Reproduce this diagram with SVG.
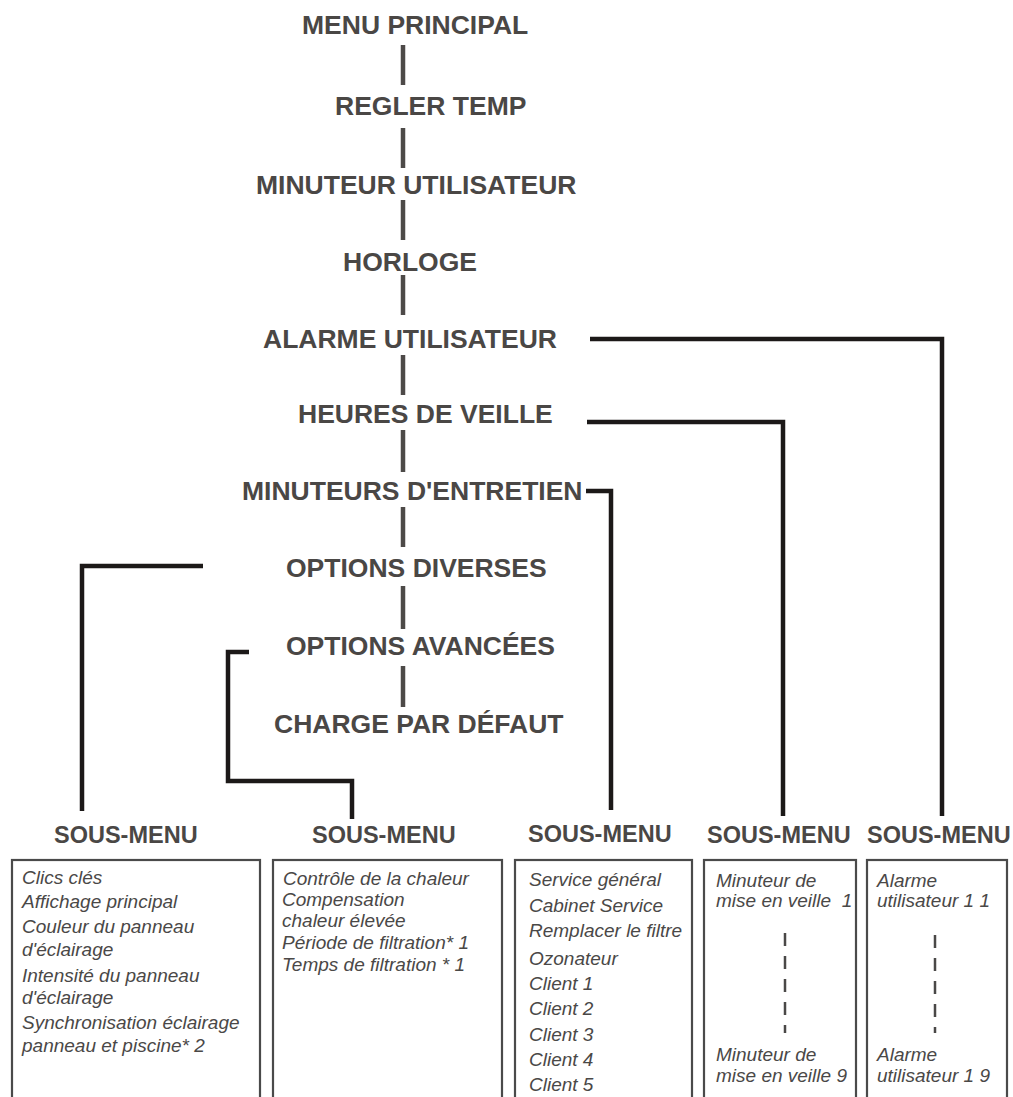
<svg xmlns="http://www.w3.org/2000/svg" width="1013" height="1097" viewBox="0 0 1013 1097">
<style>
.m{font-family:"Liberation Sans",Arial,sans-serif;font-weight:bold;font-size:26.5px;fill:#4a4745}
.h{font-family:"Liberation Sans",Arial,sans-serif;font-weight:bold;font-size:23.5px;fill:#4a4745}
.i{font-family:"Liberation Sans",Arial,sans-serif;font-style:italic;font-size:19px;fill:#4a4847}
.dash{stroke:#4d4a48;stroke-width:4.5;fill:none}
.con{stroke:#1c1918;stroke-width:4.5;fill:none;stroke-linejoin:miter}
.box{stroke:#4a4a4a;stroke-width:2.2;fill:#fff}
.dd{stroke:#4a4847;stroke-width:2.5;stroke-dasharray:13 10;fill:none}
</style>
<rect width="1013" height="1097" fill="#fff"/>
<g id="connectors">
<path class="dash" d="M403,45V85M403,128V168M403,200V240M403,275V315M403,355V395M403,430V472M403,507V547M403,586V629M403,666V707"/>
<path class="con" d="M590,339H942V816"/>
<path class="con" d="M587,422H783V816"/>
<path class="con" d="M586,491H611V810"/>
<path class="con" d="M203,566H82V811"/>
<path class="con" d="M249,652H228V781H352V819"/>
</g>
<g id="menu-principal"><text class="m" x="302" y="34">MENU PRINCIPAL</text></g>
<g id="regler-temp"><text class="m" x="335" y="115">REGLER TEMP</text></g>
<g id="minuteur-utilisateur"><text class="m" x="256" y="194">MINUTEUR UTILISATEUR</text></g>
<g id="horloge"><text class="m" x="343" y="271">HORLOGE</text></g>
<g id="alarme-utilisateur"><text class="m" x="263" y="348">ALARME UTILISATEUR</text></g>
<g id="heures-de-veille"><text class="m" x="298" y="423">HEURES DE VEILLE</text></g>
<g id="minuteurs-entretien"><text class="m" x="242" y="500">MINUTEURS D'ENTRETIEN</text></g>
<g id="options-diverses"><text class="m" x="286" y="577">OPTIONS DIVERSES</text></g>
<g id="options-avancees"><text class="m" x="286" y="655">OPTIONS AVANCÉES</text></g>
<g id="charge-par-defaut"><text class="m" x="274" y="733">CHARGE PAR DÉFAUT</text></g>

<g id="sous-menu-1">
<text class="h" x="54" y="843">SOUS-MENU</text>
<rect class="box" x="12" y="860" width="248" height="250"/>
<text class="i" x="22" y="884">Clics clés</text>
<text class="i" x="22" y="908">Affichage principal</text>
<text class="i" x="22" y="933">Couleur du panneau</text>
<text class="i" x="22" y="956">d'éclairage</text>
<text class="i" x="22" y="982">Intensité du panneau</text>
<text class="i" x="22" y="1004">d'éclairage</text>
<text class="i" x="22" y="1029">Synchronisation éclairage</text>
<text class="i" x="22" y="1052">panneau et piscine* 2</text>
</g>
<g id="sous-menu-2">
<text class="h" x="312" y="843">SOUS-MENU</text>
<rect class="box" x="273" y="860" width="229" height="250"/>
<text class="i" x="283" y="885">Contrôle de la chaleur</text>
<text class="i" x="282" y="906">Compensation</text>
<text class="i" x="282" y="927">chaleur élevée</text>
<text class="i" x="282" y="949">Période de filtration* 1</text>
<text class="i" x="282" y="971">Temps de filtration * 1</text>
</g>
<g id="sous-menu-3">
<text class="h" x="528" y="842">SOUS-MENU</text>
<rect class="box" x="515" y="860" width="177" height="250"/>
<text class="i" x="529" y="886">Service général</text>
<text class="i" x="529" y="912">Cabinet Service</text>
<text class="i" x="529" y="937">Remplacer le filtre</text>
<text class="i" x="529" y="965">Ozonateur</text>
<text class="i" x="529" y="990">Client 1</text>
<text class="i" x="529" y="1015">Client 2</text>
<text class="i" x="529" y="1041">Client 3</text>
<text class="i" x="529" y="1066">Client 4</text>
<text class="i" x="529" y="1091">Client 5</text>
</g>
<g id="sous-menu-4">
<text class="h" x="707" y="843">SOUS-MENU</text>
<rect class="box" x="704" y="860" width="152" height="250"/>
<text class="i" x="716" y="887">Minuteur de</text>
<text class="i" x="716" y="907" xml:space="preserve">mise en veille  1</text>
<path class="dd" d="M785,933V1033"/>
<text class="i" x="716" y="1061">Minuteur de</text>
<text class="i" x="716" y="1082">mise en veille 9</text>
</g>
<g id="sous-menu-5">
<text class="h" x="867" y="843">SOUS-MENU</text>
<rect class="box" x="867" y="860" width="140" height="250"/>
<text class="i" x="877" y="887">Alarme</text>
<text class="i" x="877" y="907">utilisateur 1 1</text>
<path class="dd" d="M935,935V1033"/>
<text class="i" x="877" y="1061">Alarme</text>
<text class="i" x="877" y="1082">utilisateur 1 9</text>
</g>
</svg>
